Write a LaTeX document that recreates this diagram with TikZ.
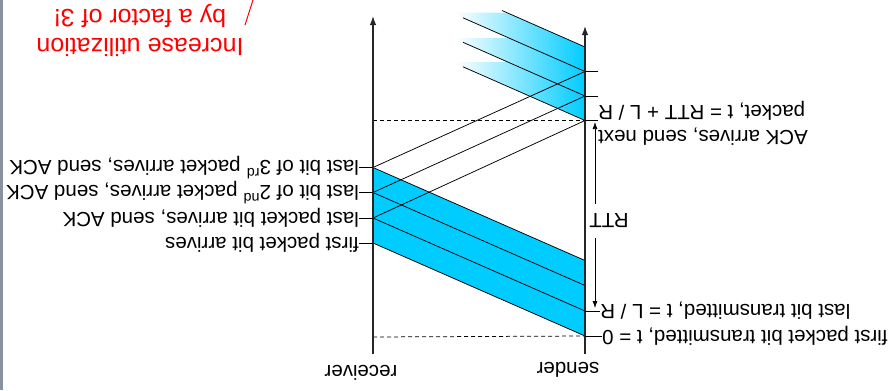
\documentclass[tikz,border=0pt]{standalone}
\usepackage{fontspec}
\setmainfont{Liberation Sans}
\usepackage{tikz}
\usetikzlibrary{arrows.meta,positioning}
\definecolor{pktblue}{RGB}{0,204,255}
\definecolor{edgegray}{RGB}{138,146,158}

\begin{document}
\begin{tikzpicture}[x=1bp,y=-1bp,
  lbl/.style={rotate=180,inner sep=0pt,font=\fontsize{20.5bp}{25bp}\selectfont},
  redlbl/.style={rotate=180,inner sep=0pt,red,align=center,font=\fontsize{25bp}{29bp}\selectfont},
  axis/.style={line width=1.3bp,black!85,-{Latex[length=9bp,width=6.5bp]}},
  pkt/.style={line width=0.75bp,black},
  tick/.style={line width=0.75bp,black},
  guide/.style={line width=0.75bp,dash pattern=on 4bp off 3bp},
  rttarrow/.style={line width=0.75bp,{Latex[length=7bp,width=5bp]}-{Latex[length=7bp,width=5bp]}}]
\useasboundingbox (0,0) rectangle (894,390);
\fill[edgegray] (0,0) rectangle (2.7,390);
% points on the sender line
\coordinate (S0) at (585,336);
\coordinate (S1) at (585,311);
\coordinate (S2) at (585,285.5);
\coordinate (S3) at (585,260.5);
\coordinate (A1) at (585,120.5);
\coordinate (A2) at (585,96);
\coordinate (A3) at (585,71.5);
\coordinate (A4) at (585,47);
% points on the receiver line
\coordinate (R1) at (373,243);
\coordinate (R2) at (373,218);
\coordinate (R3) at (373,192.5);
\coordinate (R4) at (373,167.5);
% far ends of the next window
\coordinate (F1) at (463,66.8);
\coordinate (F2) at (463,42.3);
\coordinate (F3) at (463,17.8);
\coordinate (F4) at (502,10.5);
% first window
\fill[pktblue] (S0) -- (S3) -- (R4) -- (R1) -- cycle;
\draw[pkt] (S0) -- (R1);
\draw[pkt] (S1) -- (R2);
\draw[pkt] (S2) -- (R3);
\draw[pkt] (S3) -- (R4);
% next window, fading out
\shade[left color=white,right color=pktblue] (455,12.7) -- (507,12.7) -- (A4) -- (A3) -- (F3) -- cycle;
\shade[left color=white,right color=pktblue] (455,38) -- (509,38) -- (A3) -- (A2) -- (F2) -- cycle;
\shade[left color=white,right color=pktblue] (455,62) -- (508,62) -- (A2) -- (A1) -- (F1) -- cycle;
\draw[pkt] (A1) -- (F1);
\draw[pkt] (A2) -- (F2);
\draw[pkt] (A3) -- (F3);
\draw[pkt] (A4) -- (F4);
% ACKs
\draw[pkt] (R2) -- (A1);
\draw[pkt] (R3) -- (A2);
\draw[pkt] (R4) -- (A3);
% dashed time marks
\draw[guide] (373,337) -- (S0);
\draw[guide] (373,120.5) -- (A1);
% axes
\draw[axis] (585,354) -- (585,26);
\draw[axis] (373,354) -- (373,16);
\node[lbl] (sndLbl) at (568,370) {sender};
\node[lbl] (rcvLbl) at (361,373) {receiver};
% sender side labels
\node[lbl,anchor=east] (sFirst) at (602,336) {first packet bit transmitted, t = 0};
\node[lbl,anchor=east] (sLast) at (600,311) {last bit transmitted, t = L / R};
\node[lbl,anchor=east,align=right] (sAck) at (598,123) {ACK arrives, send next\\packet, t = RTT + L / R};
\draw[tick] (S0) -- (sFirst.east);
\draw[tick] (S1) -- (sLast.east);
\draw[tick] (A1) -- ++(13,0);
\draw[tick] (A2) -- ++(13,0);
\draw[tick] (A3) -- ++(13,0);
% RTT
\coordinate (rttTop) at (595,122);
\coordinate (rttBot) at (595,308);
\draw[rttarrow] (rttTop) -- (rttBot);
\node[lbl,fill=white,inner xsep=1bp,inner ysep=10bp] (rtt) at (609,221) {RTT};
% receiver side labels
\node[lbl,anchor=west] (rFirst) at (359,243) {first packet bit arrives};
\node[lbl,anchor=west] (rLast) at (359,218) {last packet bit arrives, send ACK};
\node[lbl,anchor=west] (rSecond) at (359,192.5) {last bit of 2\textsuperscript{nd} packet arrives, send ACK};
\node[lbl,anchor=west] (rThird) at (359,167.5) {last bit of 3\textsuperscript{rd} packet arrives, send ACK};
\draw[tick] (rFirst.west) -- (R1);
\draw[tick] (rLast.west) -- (R2);
\draw[tick,line width=1.5bp] (rSecond.west) -- (R3);
\draw[tick] (rThird.west) -- (R4);
% utilization note
\node[redlbl] (gain) at (140,30) {Increase utilization\\by a factor of 3!};
\draw[red,line width=1bp] (245,25) -- (253,0);
\end{tikzpicture}
\end{document}
